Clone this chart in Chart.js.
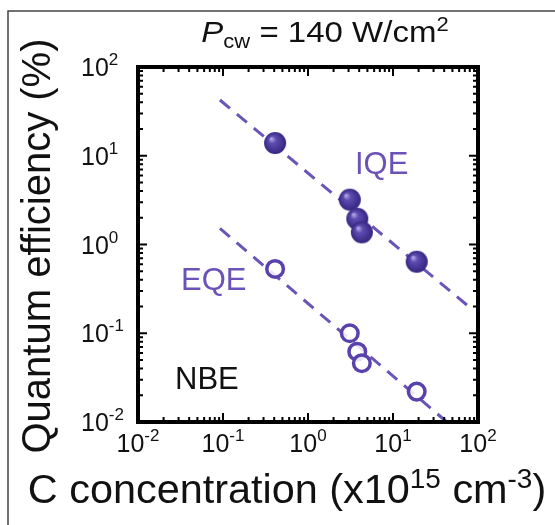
<!DOCTYPE html>
<html>
<head>
<meta charset="utf-8">
<script src="https://cdn.jsdelivr.net/npm/chart.js@4.4.1/dist/chart.umd.min.js"></script>
<style>
  html, body { margin: 0; padding: 0; background: #fff; }
  #wrap { width: 555px; height: 525px; position: relative; }
</style>
</head>
<body>
<div id="wrap"><canvas id="c" width="555" height="525"></canvas></div>
<script>
// C concentration (x10^15 cm^-3) of the samples
const conc = [0.41, 3.1, 3.8, 4.3, 19];
// quantum efficiencies (%)
const iqe = [13.9, 3.2, 1.95, 1.37, 0.64];
const eqe = [0.53, 0.10, 0.062, 0.046, 0.022];
// dashed guide lines, read at their visible ends
const iqeFitX = [0.092, 87];
const iqeFitY = [42.5, 0.183];
const eqeFitX = [0.092, 43];
const eqeFitY = [1.52, 0.01];
// axis decades and their exponent labels
const decades = [0.01, 0.1, 1, 10, 100];
const decadeExp = ['-2', '-1', '0', '1', '2'];

const PURPLE = '#5a42ad';
const LINE = '#6a54b8';
const FONT = '"Liberation Sans", Arial, sans-serif';

const pts = (xs, ys) => xs.map((x, i) => ({ x: x, y: ys[i] }));

// shaded ball for the filled IQE markers
function sphere(r) {
  const c = document.createElement('canvas');
  c.width = c.height = r * 2 + 2;
  const g = c.getContext('2d');
  const cx = r + 1, cy = r + 1;
  const grad = g.createRadialGradient(cx - r * 0.35, cy - r * 0.4, r * 0.05, cx, cy, r);
  grad.addColorStop(0, '#b3a8e4');
  grad.addColorStop(0.3, '#5e4cb2');
  grad.addColorStop(1, '#35257f');
  g.fillStyle = grad;
  g.beginPath();
  g.arc(cx, cy, r, 0, Math.PI * 2);
  g.fill();
  return c;
}

// text made of pieces (sub/superscripts), align: left|center, sx: horizontal stretch
function rich(ctx, parts, x, y, align, sx) {
  sx = sx || 1;
  let w = 0;
  parts.forEach(p => {
    ctx.font = (p.it ? 'italic ' : '') + p.size + 'px ' + FONT;
    p.w = ctx.measureText(p.t).width;
    w += p.w;
  });
  ctx.save();
  ctx.translate(align === 'center' ? x - w * sx / 2 : x, y);
  ctx.scale(sx, 1);
  ctx.textBaseline = 'alphabetic';
  ctx.textAlign = 'left';
  let cx = 0;
  parts.forEach(p => {
    ctx.font = (p.it ? 'italic ' : '') + p.size + 'px ' + FONT;
    ctx.fillText(p.t, cx, p.dy || 0);
    cx += p.w;
  });
  ctx.restore();
}

const pow10 = e => [{ t: '10', size: 25 }, { t: e, size: 17, dy: -11 }];

const deco = {
  id: 'deco',
  beforeDraw(chart) {
    const ctx = chart.ctx;
    ctx.save();
    ctx.fillStyle = '#fff';
    ctx.fillRect(0, 0, chart.width, chart.height);
    // outer figure frame (top and left)
    ctx.strokeStyle = '#444';
    ctx.lineWidth = 1.5;
    ctx.beginPath();
    ctx.moveTo(8, 525);
    ctx.lineTo(8, 11);
    ctx.lineTo(555, 11);
    ctx.stroke();
    ctx.restore();
  },
  afterDraw(chart) {
    const ctx = chart.ctx;
    const a = chart.chartArea;
    const xs = chart.scales.x, ys = chart.scales.y;
    ctx.save();
    ctx.strokeStyle = '#000';
    ctx.lineWidth = 2;
    // inward ticks on all four sides
    decades.forEach((d, i) => {
      for (let m = 1; m <= 9; m++) {
        const v = d * m;
        if (v > 100 || (i === decades.length - 1 && m > 1)) continue;
        const len = m === 1 ? 9 : 5;
        const px = xs.getPixelForValue(v);
        const py = ys.getPixelForValue(v);
        ctx.beginPath();
        ctx.moveTo(px, a.bottom); ctx.lineTo(px, a.bottom - len);
        ctx.moveTo(px, a.top); ctx.lineTo(px, a.top + len);
        ctx.moveTo(a.left, py); ctx.lineTo(a.left + len, py);
        ctx.moveTo(a.right, py); ctx.lineTo(a.right - len, py);
        ctx.stroke();
      }
    });
    ctx.lineWidth = 4;
    ctx.strokeRect(a.left, a.top, a.right - a.left, a.bottom - a.top);

    // tick labels
    ctx.fillStyle = '#111';
    decades.forEach((d, i) => {
      rich(ctx, pow10(decadeExp[i]), xs.getPixelForValue(d), 452, 'center');
      rich(ctx, pow10(decadeExp[i]), 81, ys.getPixelForValue(d) + 9, 'left');
    });

    // axis titles
    rich(ctx, [
      { t: 'C concentration (x10', size: 40 },
      { t: '15', size: 27, dy: -15 },
      { t: ' cm', size: 40 },
      { t: '-3', size: 27, dy: -15 },
      { t: ')', size: 40 }
    ], 287, 503, 'center', 1.035);
    ctx.save();
    ctx.translate(50, 246);
    ctx.rotate(-Math.PI / 2);
    rich(ctx, [{ t: 'Quantum efficiency (%)', size: 40 }], 0, 0, 'center', 1.0);
    ctx.restore();

    // title
    rich(ctx, [
      { t: 'P', size: 30, it: true },
      { t: 'cw', size: 20, dy: 6 },
      { t: ' = 140 W/cm', size: 30 },
      { t: '2', size: 20, dy: -11 }
    ], 325, 42, 'center', 1.1);

    // series labels
    ctx.fillStyle = '#6a52b8';
    rich(ctx, [{ t: 'IQE', size: 31 }], 355, 174, 'left');
    rich(ctx, [{ t: 'EQE', size: 31 }], 181, 290, 'left');
    ctx.fillStyle = '#111';
    rich(ctx, [{ t: 'NBE', size: 31 }], 175, 389, 'left');
    ctx.restore();
  }
};

new Chart(document.getElementById('c'), {
  type: 'scatter',
  data: {
    datasets: [
      {
        data: pts(conc, iqe),
        pointStyle: sphere(11),
        order: 1
      },
      {
        data: pts(conc, eqe),
        pointStyle: 'circle',
        pointRadius: 8.3,
        pointBorderWidth: 3.5,
        pointBorderColor: PURPLE,
        pointBackgroundColor: 'rgba(255,255,255,0.85)',
        order: 1
      },
      {
        data: pts(iqeFitX, iqeFitY),
        showLine: true,
        borderColor: LINE,
        borderWidth: 3,
        borderDash: [13, 9],
        pointRadius: 0,
        order: 2
      },
      {
        data: pts(eqeFitX, eqeFitY),
        showLine: true,
        borderColor: LINE,
        borderWidth: 3,
        borderDash: [13, 9],
        pointRadius: 0,
        order: 2
      }
    ]
  },
  options: {
    responsive: false,
    animation: false,
    devicePixelRatio: 1,
    layout: { padding: { left: 138, right: 77, top: 67, bottom: 103 } },
    plugins: { legend: { display: false }, tooltip: { enabled: false } },
    scales: {
      x: { type: 'logarithmic', min: 0.01, max: 100, display: false },
      y: { type: 'logarithmic', min: 0.01, max: 100, display: false }
    }
  },
  plugins: [deco]
});
</script>
</body>
</html>
